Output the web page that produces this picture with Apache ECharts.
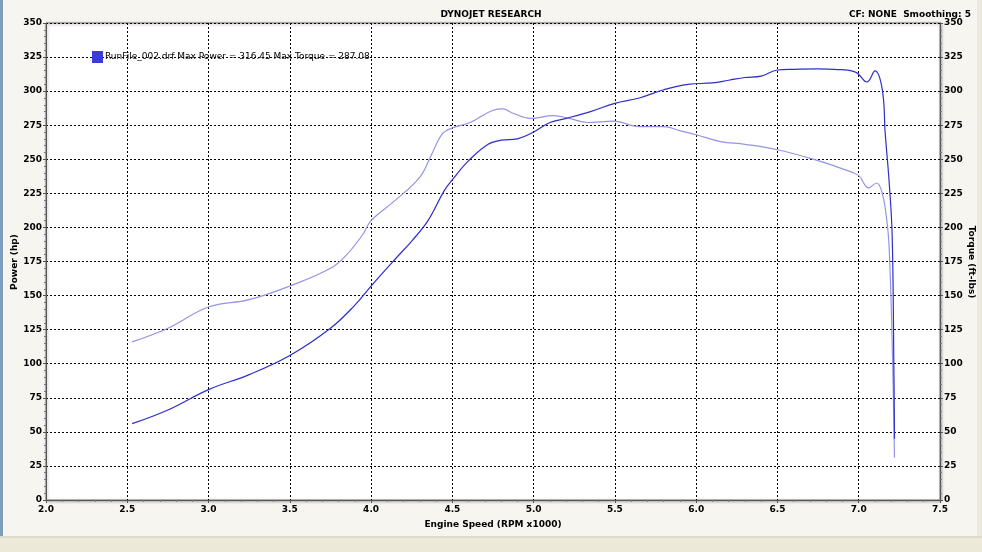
<!DOCTYPE html>
<html><head><meta charset="utf-8">
<script src="https://cdn.jsdelivr.net/npm/echarts@6/dist/echarts.min.js"></script>
<style>html,body{margin:0;padding:0;background:#ECE9D8}#c{width:982px;height:552px}</style>
</head><body><div id="c"></div>
<script>
// RPM x1000 and power (hp)
const powerRpm = [2.53,2.75,3.0,3.25,3.5,3.75,3.9,4.0,4.15,4.25,4.35,4.45,4.5,4.6,4.72,4.8,4.9,5.0,5.1,5.2,5.35,5.5,5.65,5.8,5.95,6.1,6.2,6.3,6.4,6.5,6.6,6.75,6.85,6.98,7.05,7.1,7.145,7.163,7.188,7.206,7.216,7.22];
const powerHp  = [56,66,81,92,106,126,143,157,177,190,205,227,235,249,261,264,265,270,277,280,285,291,295,301,305,306,308,310,311,315.5,316,316.4,316,314,306.7,314.8,301,269,232,193,100,45];
// RPM x1000 and torque (ft-lbs)
const torqueRpm = [2.53,2.75,3.0,3.25,3.5,3.75,3.85,3.95,4.0,4.15,4.3,4.37,4.44,4.5,4.61,4.75,4.81,4.87,4.98,5.12,5.22,5.33,5.49,5.65,5.8,5.9,6.0,6.15,6.3,6.5,6.75,6.9,7.0,7.06,7.11,7.145,7.175,7.188,7.205,7.22];
const torqueLb  = [116,126,141.6,147,157,170,180,195,205,220,237,253,269,273,277,286,287,284,280,282,280,277,278,274,274,271,268,263,261,257,249,243,238,229,232.6,225,203,183,120,31];
const xTicks = [2.0,2.5,3.0,3.5,4.0,4.5,5.0,5.5,6.0,6.5,7.0,7.5];
const yTicks = [0,25,50,75,100,125,150,175,200,225,250,275,300,325,350];
const legendText = 'RunFile_002.drf Max Power = 316.45 Max Torque = 287.08';
const powerAxisName = 'Power (hp)';
const torqueAxisName = 'Torque (ft-lbs)';

const font = 'DejaVu Sans';
const chart = echarts.init(document.getElementById('c'));
const pw = powerRpm.map((r,i)=>[r,powerHp[i]]);
const tq = torqueRpm.map((r,i)=>[r,torqueLb[i]]);
const nameStyle = {fill:'#000',fontSize:9,fontWeight:'bold',fontFamily:font,align:'center',verticalAlign:'middle'};
const yAxisCommon = {
  type:'value', min:yTicks[0], max:yTicks[yTicks.length-1], interval:25,
  axisLine:{show:true,lineStyle:{color:'#555'}},
  axisTick:{show:true,length:3,lineStyle:{color:'#555'}},
  minorTick:{show:true,splitNumber:5,length:2,lineStyle:{color:'#777'}},
  axisLabel:{color:'#000',fontSize:9,fontWeight:'bold',fontFamily:font,margin:4}
};
chart.setOption({
  backgroundColor:'#ECE9D8',
  animation:false,
  graphic:[
    {type:'rect',shape:{x:0,y:0,width:977,height:536},style:{fill:'#F6F5F0',stroke:null},z:-10},
    {type:'rect',shape:{x:0,y:0,width:3,height:536},style:{fill:'#7F9DB9'},z:-9},
    {type:'line',shape:{x1:0,y1:537,x2:982,y2:537},style:{stroke:'#D0CDBE',lineWidth:1},z:-9},
    {type:'text',x:15,y:262,rotation:Math.PI/2,style:Object.assign({text:powerAxisName},nameStyle),z:10},
    {type:'text',x:971,y:262,rotation:-Math.PI/2,style:Object.assign({text:torqueAxisName},nameStyle),z:10}
  ],
  title:[
    {text:'DYNOJET RESEARCH',left:'center',top:5,textStyle:{fontSize:9,fontWeight:'bold',fontFamily:font,color:'#000'}},
    {text:'CF: NONE  Smoothing: 5',right:6,top:5,textStyle:{fontSize:9,fontWeight:'bold',fontFamily:font,color:'#000'}}
  ],
  legend:{
    data:[legendText], left:87, top:46, icon:'rect', itemWidth:11, itemHeight:12, itemGap:2,
    textStyle:{fontSize:9,fontFamily:font,color:'#000',padding:[0,0,0,-3]}
  },
  grid:{left:46,right:42,top:23,bottom:52,outerBoundsMode:'none',show:true,backgroundColor:'#FFFFFF',borderColor:'#777',borderWidth:1,
        shadowColor:'rgba(0,0,0,0.35)',shadowBlur:3,shadowOffsetX:1,shadowOffsetY:1},
  xAxis:{
    type:'value', min:xTicks[0], max:xTicks[xTicks.length-1], interval:0.5,
    name:'Engine Speed (RPM x1000)', nameLocation:'middle', nameGap:20,
    nameTextStyle:{color:'#000',fontSize:9,fontWeight:'bold',fontFamily:font},
    axisLine:{show:true,lineStyle:{color:'#555'}},
    axisTick:{show:true,length:3,lineStyle:{color:'#555'}},
    minorTick:{show:true,splitNumber:5,length:2,lineStyle:{color:'#777'}},
    axisLabel:{color:'#000',fontSize:9,fontWeight:'bold',fontFamily:font,margin:5,formatter:v=>v.toFixed(1)},
    splitLine:{show:true,lineStyle:{color:'#000',type:[2,2],width:1}}
  },
  yAxis:[
    Object.assign({},yAxisCommon,{position:'left',
      splitLine:{show:true,lineStyle:{color:'#000',type:[2,2],width:1}}}),
    Object.assign({},yAxisCommon,{position:'right',splitLine:{show:false}})
  ],
  series:[
    {name:legendText,type:'line',data:pw,yAxisIndex:0,showSymbol:false,smooth:0.4,
     lineStyle:{color:'#2E2ECC',width:1.2},itemStyle:{color:'#3A3AE0'},z:3},
    {name:'Torque',type:'line',data:tq,yAxisIndex:1,showSymbol:false,smooth:0.4,
     lineStyle:{color:'#9494E6',width:1.2},itemStyle:{color:'#9494E6'},z:2}
  ]
});
</script></body></html>
